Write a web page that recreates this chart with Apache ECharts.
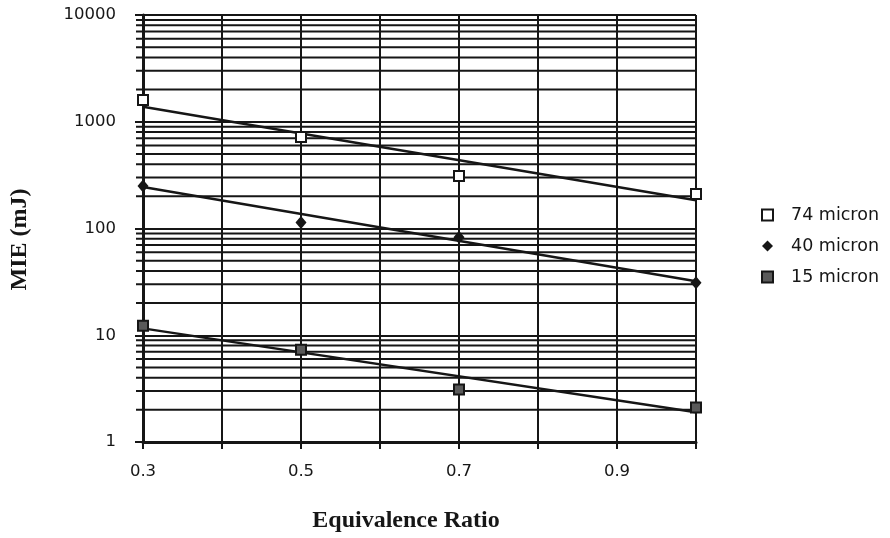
<!DOCTYPE html>
<html>
<head>
<meta charset="utf-8">
<script src="https://cdn.jsdelivr.net/npm/echarts@6/dist/echarts.min.js"></script>
<style>
  html, body { margin: 0; padding: 0; background: #fff; }
  #main { width: 890px; height: 538px; }
</style>
</head>
<body>
<div id="main"></div>
<script>
var phi = [0.3, 0.5, 0.7, 1.0];
var mie74 = [1600, 720, 310, 210];
var mie40 = [250, 114, 83, 31];
var mie15 = [12.3, 7.3, 3.1, 2.1];

// trend line ends at phi 0.3 and 1.0
var fitPhi = [0.3, 1.0];
var fit74 = [1380, 184];
var fit40 = [245, 32];
var fit15 = [11.6, 1.9];

// minor log grid lines between decades
var minorY = [2, 3, 4, 5, 6, 7, 8, 9,
              20, 30, 40, 50, 60, 70, 80, 90,
              200, 300, 400, 500, 600, 700, 800, 900,
              2000, 3000, 4000, 5000, 6000, 7000, 8000, 9000];

var ink = '#161616';

function pairs(xs, ys) {
    var out = [];
    for (var i = 0; i < xs.length; i++) {
        out.push([xs[i], ys[i]]);
    }
    return out;
}

var myChart = echarts.init(document.getElementById('main'), null, { renderer: 'canvas' });

myChart.setOption({
    backgroundColor: '#fff',
    animation: false,
    grid: { left: 143, top: 15, width: 553, height: 429, containLabel: false },
    legend: {
        orient: 'vertical',
        left: 756,
        top: 200,
        itemWidth: 11,
        itemHeight: 11,
        itemGap: 11,
        data: ['74 micron', '40 micron', '15 micron'],
        textStyle: {
            fontFamily: 'DejaVu Sans',
            fontSize: 17.5,
            color: ink,
            lineHeight: 20,
            padding: [0, 0, 0, 13]
        }
    },
    xAxis: {
        type: 'value',
        min: 0.3,
        max: 1.0,
        interval: 0.1,
        name: 'Equivalence Ratio',
        nameLocation: 'middle',
        nameGap: 67,
        nameTextStyle: {
            fontFamily: 'Liberation Serif',
            fontWeight: 'bold',
            fontSize: 24,
            color: ink,
            padding: [0, 27, 0, 0]
        },
        axisLine: { show: true, onZero: false, lineStyle: { color: ink, width: 3 } },
        axisTick: { show: true, length: 7, lineStyle: { color: ink, width: 2 } },
        axisLabel: {
            margin: 21,
            fontFamily: 'DejaVu Sans',
            fontSize: 16.5,
            color: ink,
            formatter: function (v) {
                return Math.round(v * 10) % 2 === 1 ? v.toFixed(1) : '';
            }
        },
        splitLine: { show: true, lineStyle: { color: ink, width: 2 } }
    },
    yAxis: {
        type: 'log',
        logBase: 10,
        min: 1,
        max: 10000,
        splitNumber: 4,
        name: 'MIE (mJ)',
        nameLocation: 'middle',
        nameGap: 111,
        nameTextStyle: {
            fontFamily: 'Liberation Serif',
            fontWeight: 'bold',
            fontSize: 24,
            color: ink,
            padding: [0, 22, 0, 0]
        },
        axisLine: { show: true, lineStyle: { color: ink, width: 3 } },
        axisTick: { show: true, length: 8, lineStyle: { color: ink, width: 2 } },
        axisLabel: {
            margin: 27,
            fontFamily: 'DejaVu Sans',
            fontSize: 16.5,
            color: ink,
            formatter: function (v) { return String(v); }
        },
        splitLine: { show: true, lineStyle: { color: ink, width: 2 } }
    },
    series: [
        {
            // minor log grid lines with their small outside ticks
            name: 'minor',
            type: 'custom',
            silent: true,
            clip: false,
            data: minorY,
            encode: { y: 0 },
            renderItem: function (params, api) {
                var v = api.value(0);
                var a = api.coord([0.3, v]);
                var b = api.coord([1.0, v]);
                return {
                    type: 'line',
                    shape: { x1: a[0] - 7, y1: a[1], x2: b[0], y2: b[1] },
                    style: { stroke: ink, lineWidth: 2 }
                };
            },
            z: 1
        },
        {
            name: 'fit74',
            type: 'line',
            data: pairs(fitPhi, fit74),
            showSymbol: false,
            lineStyle: { color: ink, width: 2.5 },
            z: 3
        },
        {
            name: 'fit40',
            type: 'line',
            data: pairs(fitPhi, fit40),
            showSymbol: false,
            lineStyle: { color: ink, width: 2.5 },
            z: 3
        },
        {
            name: 'fit15',
            type: 'line',
            data: pairs(fitPhi, fit15),
            showSymbol: false,
            lineStyle: { color: ink, width: 2.5 },
            z: 3
        },
        {
            name: '74 micron',
            type: 'scatter',
            data: pairs(phi, mie74),
            symbol: 'rect',
            symbolSize: 10,
            itemStyle: { color: '#fff', borderColor: ink, borderWidth: 2, opacity: 1 },
            z: 5
        },
        {
            name: '40 micron',
            type: 'scatter',
            data: pairs(phi, mie40),
            symbol: 'diamond',
            symbolSize: [11, 13],
            itemStyle: { color: ink, opacity: 1 },
            z: 5
        },
        {
            name: '15 micron',
            type: 'scatter',
            data: pairs(phi, mie15),
            symbol: 'rect',
            symbolSize: 10,
            itemStyle: { color: '#5a5a5a', borderColor: ink, borderWidth: 2, opacity: 1 },
            z: 5
        }
    ]
});
window.onresize = myChart.resize;
</script>
</body>
</html>
